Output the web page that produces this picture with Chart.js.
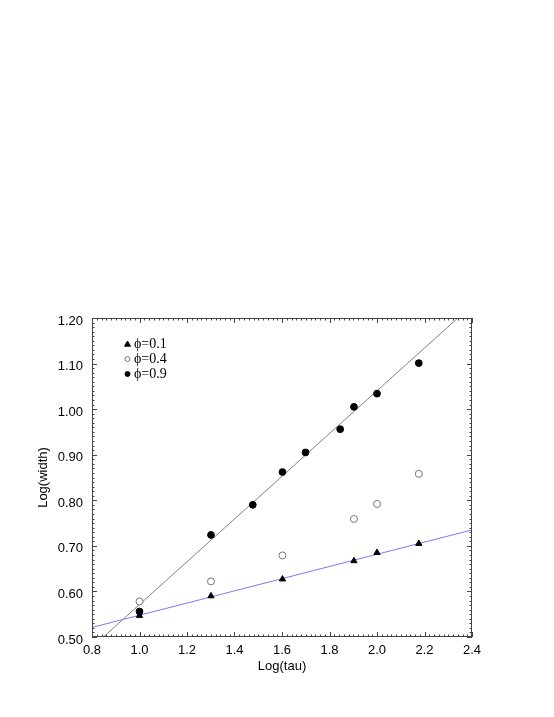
<!DOCTYPE html>
<html>
<head>
<meta charset="utf-8">
<script src="https://cdn.jsdelivr.net/npm/chart.js@4/dist/chart.umd.min.js"></script>
<style>
  html, body { margin: 0; padding: 0; background: #fff; }
  #wrap { width: 554px; height: 717px; }
</style>
</head>
<body>
<div id="wrap"><canvas id="width"></canvas></div>
<script>
// Log(tau) positions and Log(width) readings
var tau01 = [1.0, 1.301, 1.602, 1.903, 2.0, 2.176];
var width01 = [0.547, 0.590, 0.627, 0.667, 0.685, 0.705];
var tau04 = [1.0, 1.301, 1.602, 1.903, 2.0, 2.176];
var width04 = [0.578, 0.622, 0.679, 0.759, 0.792, 0.858];
var tau09 = [1.0, 1.301, 1.477, 1.602, 1.699, 1.845, 1.903, 2.0, 2.176];
var width09 = [0.556, 0.724, 0.790, 0.862, 0.905, 0.956, 1.005, 1.034, 1.101];
// fitted lines, end points over the x range
var fitTau = [0.8, 2.4];
var fit01 = [0.521, 0.735];
var fit09 = [0.4775, 1.228];
var xTicks = [0.8, 1.0, 1.2, 1.4, 1.6, 1.8, 2.0, 2.2, 2.4];
var yTicks = [0.5, 0.6, 0.7, 0.8, 0.9, 1.0, 1.1, 1.2];
var labels = ["\u03d5=0.1", "\u03d5=0.4", "\u03d5=0.9"];

function pts(xs, ys) {
    return xs.map(function (x, i) { return { x: x, y: ys[i] }; });
}

// inward ticks on all four sides + frame, and the small legend
var frameTicks = {
    id: "frameTicks",
    afterDatasetsDraw: function (chart) {
        var c = chart.ctx, a = chart.chartArea;
        var xs = chart.scales.x, ys = chart.scales.y;
        c.save();
        c.strokeStyle = "#444";
        c.lineWidth = 1;
        c.strokeRect(a.left + 0.5, a.top + 0.5, a.right - a.left - 1, a.bottom - a.top - 1);
        c.beginPath();
        var i, v, p, len;
        for (i = 0; i <= 80; i++) {
            v = xs.min + i * 0.02;
            p = Math.round(xs.getPixelForValue(v)) + 0.5;
            len = (i % 10 === 0) ? 5 : 2.5;
            c.moveTo(p, a.bottom); c.lineTo(p, a.bottom - len);
            c.moveTo(p, a.top); c.lineTo(p, a.top + len);
        }
        for (i = 0; i <= 70; i++) {
            v = ys.min + i * 0.01;
            p = Math.round(ys.getPixelForValue(v)) + 0.5;
            len = (i % 10 === 0) ? 5 : 2.5;
            c.moveTo(a.left, p); c.lineTo(a.left + len, p);
            c.moveTo(a.right, p); c.lineTo(a.right - len, p);
        }
        c.stroke();

        c.font = "14px 'Liberation Serif', serif";
        c.textBaseline = "middle";
        [0, 1, 2].forEach(function (r) {
            var ds = chart.data.datasets[r];
            var mx = a.left + 35.5, my = a.top + 26 + r * 15;
            c.fillStyle = ds.pointBackgroundColor;
            c.strokeStyle = ds.pointBorderColor;
            c.lineWidth = 1;
            c.beginPath();
            if (ds.pointStyle === "triangle") {
                c.moveTo(mx, my - 3); c.lineTo(mx + 3, my + 2.2); c.lineTo(mx - 3, my + 2.2); c.closePath();
            } else {
                c.arc(mx, my, 2.5, 0, Math.PI * 2);
            }
            c.fill(); c.stroke();
            c.fillStyle = "#000";
            c.fillText(ds.label, a.left + 42, my);
        });
        c.restore();
    }
};

var ctx = document.getElementById("width").getContext("2d");
var chart = new Chart(ctx, {
    type: "scatter",
    data: {
        datasets: [{
            label: labels[0],
            data: pts(tau01, width01),
            pointStyle: "triangle",
            pointRadius: 3.6,
            pointBackgroundColor: "#000",
            pointBorderColor: "#000",
            borderWidth: 1,
            showLine: false
        }, {
            label: labels[1],
            data: pts(tau04, width04),
            pointStyle: "circle",
            pointRadius: 3.5,
            pointBackgroundColor: "#fff",
            pointBorderColor: "#777",
            borderWidth: 1,
            showLine: false
        }, {
            label: labels[2],
            data: pts(tau09, width09),
            pointStyle: "circle",
            pointRadius: 3.4,
            pointBackgroundColor: "#000",
            pointBorderColor: "#000",
            borderWidth: 1,
            showLine: false
        }, {
            label: "fit 0.1",
            data: pts(fitTau, fit01),
            showLine: true,
            borderColor: "#7b7bf5",
            borderWidth: 1,
            pointRadius: 0,
            clip: 0
        }, {
            label: "fit 0.9",
            data: pts(fitTau, fit09),
            showLine: true,
            borderColor: "#808080",
            borderWidth: 1,
            pointRadius: 0,
            clip: 0
        }]
    },
    options: {
        responsive: true,
        maintainAspectRatio: false,
        animation: false,
        layout: { padding: { top: 318, left: 31.5, right: 82, bottom: 38.5 } },
        plugins: {
            legend: { display: false },
            tooltip: { enabled: false }
        },
        scales: {
            x: {
                type: "linear",
                min: 0.8,
                max: 2.4,
                afterFit: function (s) { s.height = 41.5; },
                afterBuildTicks: function (s) { s.ticks = xTicks.map(function (v) { return { value: v }; }); },
                grid: { display: false, drawTicks: false },
                border: { display: false },
                ticks: {
                    padding: 6,
                    color: "#000",
                    font: { family: "'Liberation Sans', Arial, sans-serif", size: 13 },
                    maxRotation: 0,
                    callback: function (v) { return Number(v).toFixed(1); }
                },
                title: {
                    display: true,
                    text: "Log(tau)",
                    color: "#000",
                    font: { family: "'Liberation Sans', Arial, sans-serif", size: 13 }
                }
            },
            y: {
                type: "linear",
                min: 0.5,
                max: 1.2,
                afterFit: function (s) { s.width = 60.5; },
                afterBuildTicks: function (s) { s.ticks = yTicks.map(function (v) { return { value: v }; }); },
                grid: { display: false, drawTicks: false },
                border: { display: false },
                ticks: {
                    padding: 9,
                    labelOffset: 3,
                    color: "#000",
                    font: { family: "'Liberation Sans', Arial, sans-serif", size: 13 },
                    callback: function (v) { return Number(v).toFixed(2); }
                },
                title: {
                    display: true,
                    text: "Log(width)",
                    color: "#000",
                    font: { family: "'Liberation Sans', Arial, sans-serif", size: 13 }
                }
            }
        }
    },
    plugins: [frameTicks]
});
</script>
</body>
</html>
